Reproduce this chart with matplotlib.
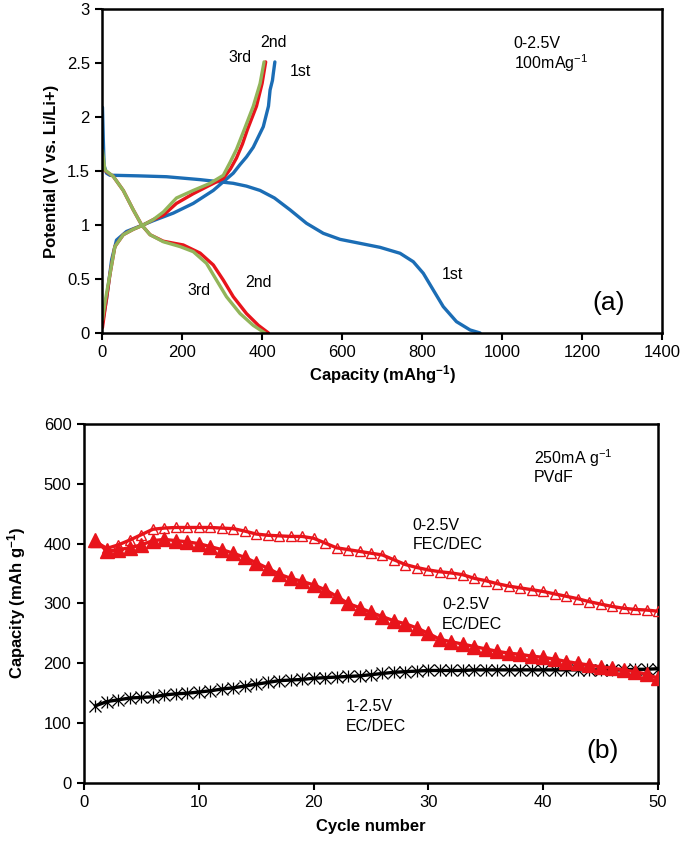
import numpy as np
import matplotlib
matplotlib.use("Agg")
import matplotlib.pyplot as plt
from matplotlib.ticker import FuncFormatter

plt.rcParams['font.family'] = ['Liberation Sans', 'DejaVu Sans']
plt.rcParams['mathtext.fontset'] = 'custom'
plt.rcParams['mathtext.rm'] = 'Liberation Sans'
plt.rcParams['mathtext.it'] = 'Liberation Sans:italic'
plt.rcParams['mathtext.bf'] = 'Liberation Sans:bold'

# ---------------- Panel (a) data: galvanostatic profiles ----------------
cap_dis1 = [0, 2, 4, 10, 19, 31, 90, 160, 244, 327, 360, 394, 430, 469, 510, 552, 594,
            636, 694, 744, 777, 802, 827, 852, 885, 919, 944]
v_dis1 = [2.09, 1.80, 1.55, 1.48, 1.46, 1.46, 1.455, 1.447, 1.42, 1.386, 1.36, 1.32, 1.25, 1.14,
          1.016, 0.923, 0.867, 0.836, 0.793, 0.738, 0.66, 0.553, 0.398, 0.244, 0.105, 0.028, 0.0]
cap_chg1 = [0, 4, 10, 23, 35, 60, 94, 127, 177, 227, 277, 302, 327, 344, 360, 377, 402,
            415, 419, 425, 427, 431]
v_chg1 = [0.09, 0.18, 0.31, 0.68, 0.86, 0.94, 0.99, 1.04, 1.11, 1.20, 1.32, 1.40, 1.48, 1.56,
          1.63, 1.72, 1.91, 2.10, 2.25, 2.34, 2.40, 2.51]

cap_dis2 = [0, 4, 27, 52, 77, 98, 119, 152, 180, 202, 244, 277, 302, 327, 360, 390, 415]
v_dis2 = [1.55, 1.51, 1.45, 1.32, 1.14, 1.00, 0.91, 0.85, 0.83, 0.815, 0.74, 0.63, 0.49, 0.336,
          0.18, 0.07, 0.0]
cap_chg2 = [0, 7, 19, 31, 52, 77, 102, 127, 152, 185, 227, 269, 302, 320, 335, 350, 362, 385, 399, 408]
v_chg2 = [0.05, 0.24, 0.55, 0.80, 0.91, 0.96, 1.00, 1.05, 1.09, 1.20, 1.29, 1.37, 1.43, 1.52,
          1.62, 1.75, 1.88, 2.10, 2.31, 2.51]

cap_dis3 = [0, 6, 27, 52, 77, 98, 119, 152, 194, 227, 260, 285, 310, 344, 377, 406]
v_dis3 = [1.69, 1.51, 1.45, 1.32, 1.14, 1.00, 0.91, 0.845, 0.80, 0.753, 0.645, 0.49, 0.336,
          0.18, 0.07, 0.0]
cap_chg3 = [0, 7, 19, 31, 52, 77, 102, 127, 152, 185, 227, 269, 302, 319, 335, 352, 377, 394, 404]
v_chg3 = [0.12, 0.30, 0.55, 0.80, 0.91, 0.96, 1.00, 1.05, 1.12, 1.25, 1.32, 1.386, 1.46, 1.58,
          1.70, 1.86, 2.10, 2.31, 2.51]

x_ticks_a = [0, 200, 400, 600, 800, 1000, 1200, 1400]
y_ticks_a = [0, 0.5, 1, 1.5, 2, 2.5, 3]

# ---------------- Panel (b) data: cycling ----------------
cycles = list(range(1, 51))
cap_ec_0_25 = [406, 387, 390, 393, 398, 405, 407, 405, 403, 400,
               395, 390, 384, 377, 368, 359, 349, 342, 337, 331,
               323, 312, 300, 293, 285, 278, 271, 266, 259, 250,
               240, 236, 232, 228, 224, 220, 217, 215, 212, 210,
               207, 203, 200, 197, 194, 192, 189, 186, 182, 175]
cap_fec_0_25 = [403, 392, 398, 406, 415, 424, 426, 427, 427, 427,
                427, 426, 425, 421, 416, 414, 413, 412, 412, 409,
                401, 393, 390, 387, 384, 381, 373, 365, 360, 356,
                353, 351, 348, 342, 338, 333, 329, 326, 323, 320,
                316, 312, 308, 303, 299, 295, 292, 290, 289, 287]
cap_ec_1_25 = [129, 136, 139, 142, 143, 144, 147, 149, 150, 152,
               154, 157, 159, 162, 165, 168, 171, 172, 173, 175,
               176, 177, 178, 179, 181, 183, 185, 186, 187, 188,
               188, 188, 188, 189, 189, 189, 189, 189, 189, 189,
               189, 189, 189, 189, 189, 189, 189, 190, 190, 191]
x_ticks_b = [0, 10, 20, 30, 40, 50]
y_ticks_b = [0, 100, 200, 300, 400, 500, 600]

BLUE = '#1B6DB5'
RED = '#E8141B'
GREEN = '#92B55A'

fig = plt.figure(figsize=(6.85, 8.43), dpi=100)
ax1 = fig.add_axes([0.1496, 0.605, 0.8175, 0.3843])
ax2 = fig.add_axes([0.1226, 0.0712, 0.838, 0.4259])

lw = 2.4
kw = dict(lw=lw, solid_joinstyle='round', solid_capstyle='round')
ax1.plot(cap_dis1, v_dis1, color=BLUE, **kw)
ax1.plot(cap_chg1, v_chg1, color=BLUE, **kw)
ax1.plot(cap_dis2, v_dis2, color=RED, **kw)
ax1.plot(cap_chg2, v_chg2, color=RED, **kw)
ax1.plot(cap_dis3, v_dis3, color=GREEN, **kw)
ax1.plot(cap_chg3, v_chg3, color=GREEN, **kw)

ax1.set_xlim(0, 1400)
ax1.set_ylim(0, 3)
ax1.set_xticks(x_ticks_a)
ax1.set_yticks(y_ticks_a)
ax1.yaxis.set_major_formatter(FuncFormatter(lambda v, p: f"{v:g}"))
ax1.set_xlabel(r"Capacity (mAhg$^{\mathbf{-1}}$)", fontweight='bold', fontsize=12, labelpad=2)
ax1.set_ylabel("Potential (V vs. Li/Li+)", fontweight='bold', fontsize=12, labelpad=6)

tfs = 11.5
ax1.text(496, 2.42, "1st", fontsize=tfs, ha='center', va='center')
ax1.text(427, 2.69, "2nd", fontsize=tfs, ha='center', va='center')
ax1.text(343, 2.55, "3rd", fontsize=tfs, ha='center', va='center')
ax1.text(389, 0.47, "2nd", fontsize=tfs, ha='center', va='center')
ax1.text(241, 0.39, "3rd", fontsize=tfs, ha='center', va='center')
ax1.text(876, 0.54, "1st", fontsize=tfs, ha='center', va='center')
ax1.text(1028, 2.68, "0-2.5V", fontsize=tfs, ha='left', va='center')
ax1.text(1028, 2.50, r"100mAg$^{-1}$", fontsize=tfs, ha='left', va='center')
ax1.text(1265, 0.28, "(a)", fontsize=19, ha='center', va='center')

# panel b
ax2.plot(cycles, cap_ec_1_25, color='black', lw=2.4, zorder=2)
ax2.plot(cycles, cap_ec_1_25, ls='none', marker='x', ms=8, mew=0.9, color='black', zorder=2)
ax2.plot(cycles, cap_ec_1_25, ls='none', marker='|', ms=8, mew=0.9, color='black', zorder=2)
ax2.plot(cycles, cap_ec_0_25, color=RED, lw=2.4, marker='^', ms=9.5, mfc=RED, mec=RED, zorder=3)
ax2.plot(cycles, cap_fec_0_25, color=RED, lw=2.4, marker='^', ms=7.5, mfc='none', mec=RED, mew=1.0, zorder=4)

ax2.set_xlim(0, 50)
ax2.set_ylim(0, 600)
ax2.set_xticks(x_ticks_b)
ax2.set_yticks(y_ticks_b)
ax2.set_xlabel("Cycle number", fontweight='bold', fontsize=12, labelpad=6)
ax2.set_ylabel(r"Capacity (mAh g$^{\mathbf{-1}}$)", fontweight='bold', fontsize=12, labelpad=11)

ax2.text(39.2, 543, r"250mA g$^{-1}$", fontsize=tfs, ha='left', va='center')
ax2.text(39.2, 510, "PVdF", fontsize=tfs, ha='left', va='center')
ax2.text(28.6, 431, "0-2.5V", fontsize=tfs, ha='left', va='center')
ax2.text(28.6, 399, "FEC/DEC", fontsize=tfs, ha='left', va='center')
ax2.text(31.2, 298, "0-2.5V", fontsize=tfs, ha='left', va='center')
ax2.text(31.2, 265, "EC/DEC", fontsize=tfs, ha='left', va='center')
ax2.text(22.8, 127, "1-2.5V", fontsize=tfs, ha='left', va='center')
ax2.text(22.8, 94, "EC/DEC", fontsize=tfs, ha='left', va='center')
ax2.text(45.2, 53, "(b)", fontsize=19, ha='center', va='center')

for ax in (ax1, ax2):
    for s in ax.spines.values():
        s.set_linewidth(1.8)
    ax.tick_params(direction='out', length=5, width=1.5, labelsize=12, pad=4)

fig.savefig("out.png", dpi=100)
